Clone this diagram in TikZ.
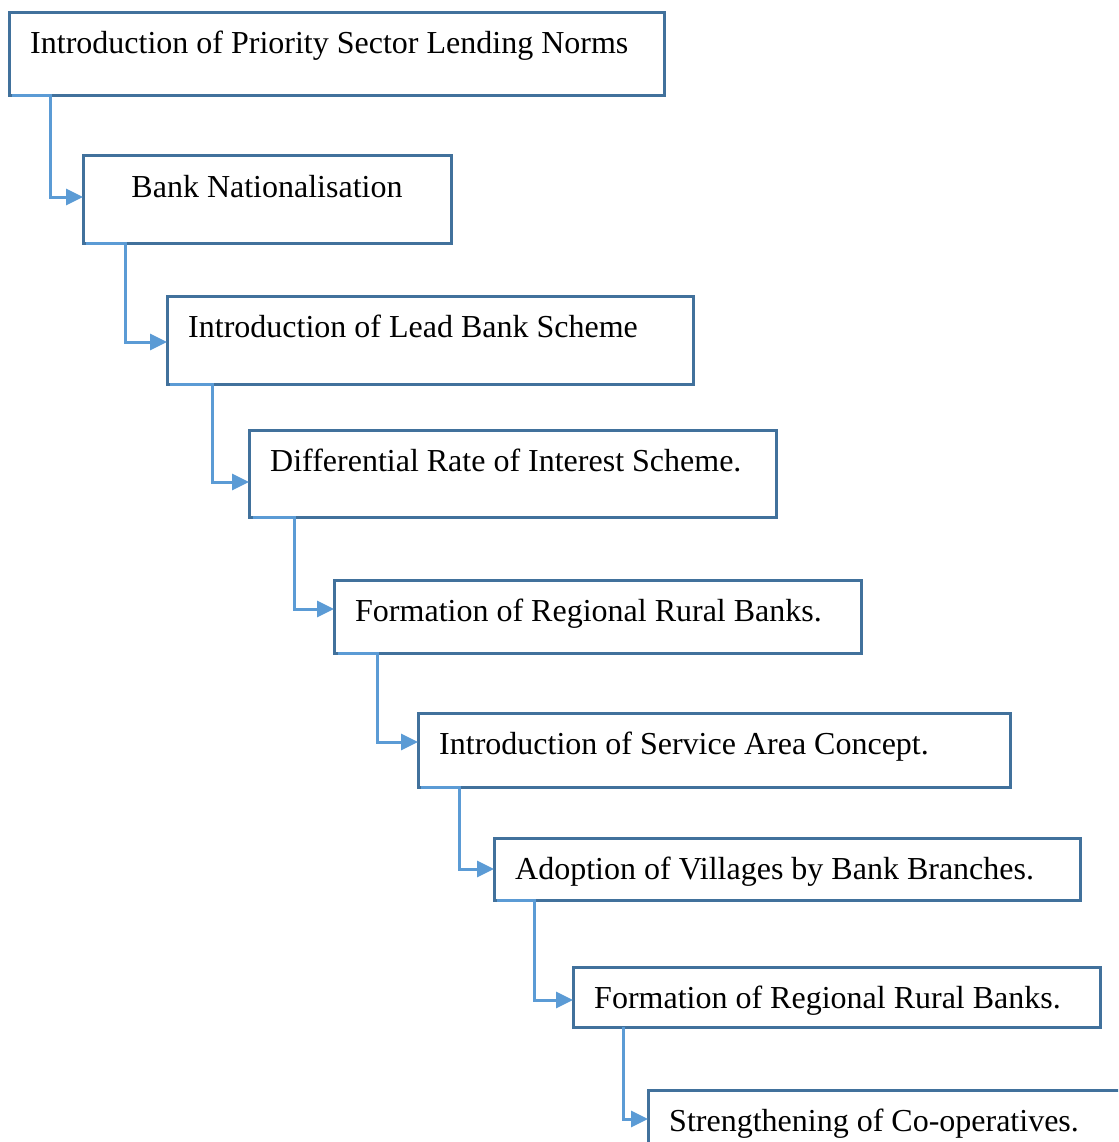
\documentclass[tikz,border=0pt]{standalone}
\usepackage{fontspec}
\setmainfont{Liberation Serif}
\usetikzlibrary{arrows.meta}
\definecolor{boxline}{HTML}{41719C}
\definecolor{linkline}{HTML}{5B9BD5}
\tikzset{
  stagebox/.style={draw=boxline, line width=3pt, rectangle, anchor=north west, inner sep=0pt, outer sep=0pt, fill=white},
  stagetext/.style={anchor=base west, inner sep=0pt, font=\fontsize{32}{38}\selectfont},
  link/.style={draw=linkline, line width=3pt, -{Triangle[length=17pt,width=16pt]}}
}
\begin{document}
\begin{tikzpicture}[x=1pt,y=-1pt]
\useasboundingbox (0,0) rectangle (1118,1142);
\clip (0,0) rectangle (1118,1142);
% stage boxes
\node[stagebox, minimum width=655pt, minimum height=83pt] (b1) at (9,13) {};
\node[stagebox, minimum width=368pt, minimum height=87pt] (b2) at (83,156) {};
\node[stagebox, minimum width=526pt, minimum height=88pt] (b3) at (167,296) {};
\node[stagebox, minimum width=527pt, minimum height=87pt] (b4) at (249,430) {};
\node[stagebox, minimum width=527pt, minimum height=73pt] (b5) at (334,580) {};
\node[stagebox, minimum width=592pt, minimum height=74pt] (b6) at (418,713) {};
\node[stagebox, minimum width=586pt, minimum height=62pt] (b7) at (494,838) {};
\node[stagebox, minimum width=527pt, minimum height=60pt] (b8) at (573,967) {};
\node[stagebox, minimum width=500pt, minimum height=90pt] (b9) at (648,1090) {};
% stage labels
\node[stagetext] (t1) at ([shift={(21,41)}]b1.north west) {Introduction of Priority Sector Lending Norms};
\node[stagetext, anchor=base] (t2) at ([yshift=-41pt]b2.north) {Bank Nationalisation};
\node[stagetext] (t3) at ([shift={(21,41)}]b3.north west) {Introduction of Lead Bank Scheme};
\node[stagetext] (t4) at ([shift={(21,41)}]b4.north west) {Differential Rate of Interest Scheme.};
\node[stagetext] (t5) at ([shift={(21,41)}]b5.north west) {Formation of Regional Rural Banks.};
\node[stagetext] (t6) at ([shift={(21,41)}]b6.north west) {Introduction of Service Area Concept.};
\node[stagetext] (t7) at ([shift={(21,41)}]b7.north west) {Adoption of Villages by Bank Branches.};
\node[stagetext] (t8) at ([shift={(21,41)}]b8.north west) {Formation of Regional Rural Banks.};
\node[stagetext] (t9) at ([shift={(21,41)}]b9.north west) {Strengthening of Co-operatives.};
% elbow connectors between stages
\draw[link] ([xshift=3pt]b1.south west) -- ++(38,0) |- ([yshift=-41pt]b2.north west);
\draw[link] ([xshift=3pt]b2.south west) -- ++(39,0) |- ([yshift=-46pt]b3.north west);
\draw[link] ([xshift=3pt]b3.south west) -- ++(42,0) |- ([yshift=-52pt]b4.north west);
\draw[link] ([xshift=4pt]b4.south west) -- ++(41,0) |- ([yshift=-29pt]b5.north west);
\draw[link] ([xshift=4pt]b5.south west) -- ++(39,0) |- ([yshift=-29pt]b6.north west);
\draw[link] ([xshift=3pt]b6.south west) -- ++(38,0) |- ([yshift=-31pt]b7.north west);
\draw[link] ([xshift=3pt]b7.south west) -- ++(37,0) |- ([yshift=-33pt]b8.north west);
\draw[link] ([xshift=50pt]b8.south west) |- ([yshift=-29pt]b9.north west);
\end{tikzpicture}
\end{document}
